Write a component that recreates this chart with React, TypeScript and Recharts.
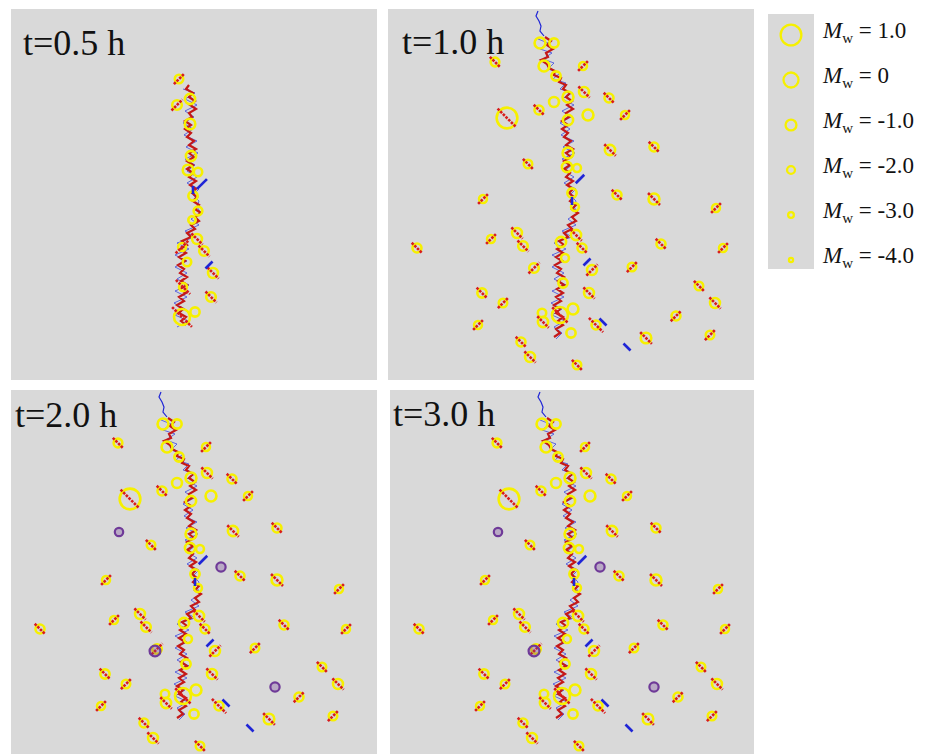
import { ScatterChart, Scatter, XAxis, YAxis } from "recharts";

// panel-local pixel coordinates (x right, y down)
const panelTitles = ["t=0.5 h", "t=1.0 h", "t=2.0 h", "t=3.0 h"];

const legendMw = [1.0, 0, -1.0, -2.0, -3.0, -4.0];
const legendLabels = ["1.0", "0", "-1.0", "-2.0", "-3.0", "-4.0"];

// red zig-zag trace of the hydraulic fracture
const fractureTrace = [
  [157, 28], [163, 32], [159, 36], [165, 40], [158, 44], [160, 48], [153, 51], [159, 55],
  [161, 59], [167, 62], [166, 66], [173, 69], [171, 73], [178, 76], [175, 80], [182, 84],
  [178, 88], [184, 92], [179, 96], [185, 100], [178, 104], [181, 108], [174, 112], [180, 116],
  [174, 120], [180, 124], [176, 128], [183, 132], [178, 136], [185, 140], [178, 144], [183, 148],
  [176, 152], [182, 156], [176, 160], [182, 164], [178, 168], [185, 172], [179, 176], [185, 180],
  [181, 184], [186, 188], [182, 192], [188, 196], [184, 200], [190, 204], [184, 208], [188, 212],
  [180, 216], [184, 220], [176, 224], [180, 228], [171, 232], [176, 236], [169, 240], [175, 244],
  [168, 248], [174, 252], [167, 256], [173, 260], [169, 264], [176, 268], [170, 272], [176, 276],
  [169, 280], [175, 284], [168, 288], [173, 292], [166, 296], [172, 300], [168, 304], [175, 308],
  [170, 312], [175, 316], [168, 320], [172, 324], [166, 328],
];

// thin blue shear hairs along the fracture
const hairTrace = [
  [150, 30], [160, 34], [152, 40], [164, 44], [155, 50], [166, 54], [160, 60], [172, 64],
  [165, 70], [178, 74], [172, 80], [184, 84], [174, 90], [186, 96], [174, 102], [183, 108],
  [172, 114], [182, 120], [173, 126], [186, 132], [175, 138], [187, 144], [174, 150], [184, 156],
  [176, 162], [186, 168], [176, 174], [188, 180], [182, 186], [188, 192], [186, 198], [190, 204],
  [180, 210], [188, 216], [174, 222], [184, 228], [166, 234], [178, 240], [164, 246], [176, 252],
  [164, 258], [176, 264], [166, 270], [178, 276], [164, 282], [176, 288], [163, 294], [174, 300],
  [164, 306], [177, 312], [166, 318], [174, 324], [168, 330],
];

// blue wavy tip at the top of the fracture
const tipTrace = [[150, 2], [148, 7], [151, 12], [153, 17], [152, 22], [156, 27]];

// events: [x, y, Mw, tilt (1 = "\", -1 = "/", 0 = none), half-length]
const earlyEvents = [
  [168, 70, -1.8, -1], [179, 90, -1.2, 0], [166, 96, -1.4, -1], [179, 115, -1.1, 0],
  [180, 147, -1.2, 0], [177, 161, -1.1, 0], [187, 163, -1.8, 0], [182, 187, -1.5, 0],
  [187, 202, -1.7, 0], [181, 211, -2.2, 0], [186, 230, -1.3, 1], [171, 238, -2.0, -1, 9],
  [193, 242, -1.4, 1], [176, 253, -1.8, 0], [202, 264, -1.3, 1], [172, 278, -2.0, 1, 10],
  [200, 288, -1.4, 1], [171, 308, 0.2, 1, 14], [184, 303, -1.5, 0],
];

const events = [
  [152, 34, -1.0, 0], [166, 34, -1.5, 0], [107, 53, -1.7, 1], [156, 57, -1.0, 0],
  [195, 57, -2.0, -1], [168, 67, -1.5, 0], [196, 83, -1.3, 1], [221, 89, -1.6, 1],
  [180, 88, -1.0, 0], [166, 93, -1.3, 0], [151, 101, -1.6, 1], [119, 109, 1.0, 1],
  [200, 106, -1.0, 0], [237, 106, -2.0, -1], [180, 111, -1.2, 0], [222, 141, -1.2, 1],
  [266, 138, -1.6, 1], [180, 144, -1.0, 0], [140, 155, -1.8, 1], [179, 158, -1.2, 0],
  [189, 159, -2.0, 0], [184, 184, -1.5, 0], [229, 186, -1.6, 1], [266, 190, -1.0, 1],
  [95, 190, -2.0, -1], [187, 198, -2.0, 0], [328, 199, -2.0, -1], [129, 224, -1.3, 1],
  [103, 230, -2.0, -1], [188, 226, -1.2, 1], [29, 239, -1.6, 1], [135, 237, -1.4, 1],
  [173, 233, -1.2, 0], [194, 239, -1.6, 1], [273, 235, -1.6, 1], [335, 239, -2.0, -1],
  [177, 249, -2.0, 0], [146, 259, -1.4, -1], [204, 261, -1.3, -1], [244, 258, -1.8, -1],
  [175, 274, -1.5, 0], [94, 284, -1.5, 1], [201, 284, -1.3, 1], [311, 277, -1.8, 1],
  [115, 294, -1.8, -1], [327, 294, -1.3, 1], [185, 300, -1.0, 0], [172, 306, 0.2, 1],
  [154, 304, -1.8, 0], [155, 313, -1.2, 1], [208, 316, -1.6, 1, 10], [90, 316, -2.0, -1],
  [288, 307, -1.6, -1], [183, 324, -1.5, 0], [258, 329, -1.1, 1], [322, 326, -1.8, -1],
  [133, 333, -1.6, 1], [142, 348, -1.3, 1], [189, 356, -1.8, 1],
];

// later (purple) events that appear from t = 2.0 h
const lateEvents = [[108, 142, -1.8], [210, 177, -1.5], [144, 261, -1.0], [264, 297, -1.5]];

// blue slip segments: [x, y, angle in degrees, half-length]
const earlySlips = [[191, 175, 45, 7], [182, 181, 90, 4], [198, 256, 45, 5]];
const slips = [[192, 170, 45, 6], [184, 192, 90, 4], [199, 253, 45, 5], [215, 313, -45, 5], [239, 338, -45, 5]];

const YELLOW = "#f6f000";
const RED = "#d81c1c";
const CRACK_RED = "#c41818";
const BLUE = "#1f25d6";
const PURPLE = "#6f3a98";
const PANEL_BG = "#d9d9d9";

const pts = (rows: number[][]) => rows.map(([x, y]) => ({ x, y }));
const evts = (rows: number[][]) => rows.map(([x, y, mw, tilt, len]) => ({ x, y, mw, tilt, len }));
const segs = (rows: number[][]) => rows.map(([x, y, angle, len]) => ({ x, y, angle, len }));

const ringR = (mw: number) => 7.5 * Math.pow(1.38, mw);

const Blank = () => <g />;

function EventMark(props: any) {
  const { cx, cy, payload } = props;
  const r = ringR(payload.mw);
  const d = (payload.len ?? r + 3) / Math.SQRT2;
  const t = payload.tilt;
  return (
    <g>
      <circle cx={cx} cy={cy} r={r} fill="none" stroke={YELLOW} strokeWidth={2.6} />
      {t !== 0 && (
        <line
          x1={cx - d}
          y1={cy - d * t}
          x2={cx + d}
          y2={cy + d * t}
          stroke={RED}
          strokeWidth={2.6}
          strokeDasharray="2.6 1.2"
        />
      )}
    </g>
  );
}

function SlipMark(props: any) {
  const { cx, cy, payload } = props;
  const a = (payload.angle * Math.PI) / 180;
  const dx = payload.len * Math.cos(a);
  const dy = payload.len * Math.sin(a);
  return <line x1={cx - dx} y1={cy + dy} x2={cx + dx} y2={cy - dy} stroke={BLUE} strokeWidth={2.6} />;
}

function PurpleMark(props: any) {
  const { cx, cy, payload } = props;
  return <circle cx={cx} cy={cy} r={ringR(payload.mw)} fill="rgba(111,58,152,0.3)" stroke={PURPLE} strokeWidth={2.2} />;
}

function LegendMark(props: any) {
  const { cx, cy, payload } = props;
  return (
    <g>
      <circle cx={cx} cy={cy} r={ringR(payload.mw)} fill="none" stroke={YELLOW} strokeWidth={2.3} />
      <text x={cx + 32} y={cy + 3} fontFamily='"Liberation Serif", serif' fontSize={23} fill="#111">
        <tspan fontStyle="italic">M</tspan>
        <tspan fontSize={15} dy={5}>w</tspan>
        <tspan dy={-5}>{" = " + payload.label}</tspan>
      </text>
    </g>
  );
}

type PanelProps = {
  left: number;
  top: number;
  w: number;
  h: number;
  title: string;
  tx: number;
  ty: number;
  crack: { x: number; y: number }[];
  hairs: { x: number; y: number }[];
  tip?: { x: number; y: number }[];
  quakes: any[];
  slipData: any[];
  late?: any[];
};

function Panel({ left, top, w, h, title, tx, ty, crack, hairs, tip, quakes, slipData, late }: PanelProps) {
  return (
    <div style={{ position: "absolute", left, top, width: w, height: h, background: PANEL_BG }}>
      <ScatterChart width={w} height={h} margin={{ top: 0, right: 0, bottom: 0, left: 0 }}>
        <XAxis type="number" dataKey="x" domain={[0, w]} hide allowDataOverflow />
        <YAxis type="number" dataKey="y" domain={[0, h]} reversed hide allowDataOverflow />
        {tip && (
          <Scatter data={tip} line={{ stroke: BLUE, strokeWidth: 1.2 }} lineType="joint" shape={Blank} isAnimationActive={false} />
        )}
        <Scatter
          data={hairs}
          line={{ stroke: "#3442e0", strokeWidth: 1, strokeOpacity: 0.75 }}
          lineType="joint"
          shape={Blank}
          isAnimationActive={false}
        />
        <Scatter data={crack} line={{ stroke: CRACK_RED, strokeWidth: 2.2 }} lineType="joint" shape={Blank} isAnimationActive={false} />
        <Scatter data={quakes} shape={EventMark} isAnimationActive={false} />
        <Scatter data={slipData} shape={SlipMark} isAnimationActive={false} />
        {late && <Scatter data={late} shape={PurpleMark} isAnimationActive={false} />}
      </ScatterChart>
      <svg style={{ position: "absolute", left: 0, top: 0, pointerEvents: "none" }} width={w} height={h}>
        <text x={tx} y={ty} fontFamily='"Liberation Serif", serif' fontSize={36} fill="#111">
          {title}
        </text>
      </svg>
    </div>
  );
}

export default function App() {
  const crack = pts(fractureTrace);
  const hairs = pts(hairTrace);
  const tip = pts(tipTrace);
  const earlyCrack = crack.filter((p) => p.y >= 76 && p.y <= 318);
  const earlyHairs = hairs.filter((p) => p.y >= 80 && p.y <= 318);
  const quakes = evts(events);
  const late = lateEvents.map(([x, y, mw]) => ({ x, y, mw }));
  const legendRows = legendMw.map((mw, i) => ({ mw, row: i, col: 0, label: legendLabels[i] }));

  return (
    <div style={{ position: "absolute", left: 0, top: 0, width: 931, height: 754, background: "#fff", overflow: "hidden" }}>
      <Panel left={11} top={9} w={366} h={371} title={panelTitles[0]} tx={12} ty={46}
        crack={earlyCrack} hairs={earlyHairs} quakes={evts(earlyEvents)} slipData={segs(earlySlips)} />
      <Panel left={388} top={9} w={366} h={371} title={panelTitles[1]} tx={14} ty={45}
        crack={crack} hairs={hairs} tip={tip} quakes={quakes} slipData={segs(slips)} />
      <Panel left={11} top={390} w={366} h={364} title={panelTitles[2]} tx={4} ty={37}
        crack={crack} hairs={hairs} tip={tip} quakes={quakes} slipData={segs(slips)} late={late} />
      <Panel left={390} top={390} w={364} h={364} title={panelTitles[3]} tx={3} ty={36}
        crack={crack} hairs={hairs} tip={tip} quakes={quakes} slipData={segs(slips)} late={late} />

      <div style={{ position: "absolute", left: 768, top: 14, width: 46, height: 255, background: PANEL_BG }} />
      <div style={{ position: "absolute", left: 768, top: 14 }}>
        <ScatterChart width={163} height={272} margin={{ top: 0, right: 0, bottom: 0, left: 0 }}>
          <XAxis type="number" dataKey="col" domain={[-23, 140]} hide />
          <YAxis type="number" dataKey="row" domain={[-0.4667, 5.5778]} reversed hide />
          <Scatter data={legendRows} shape={LegendMark} isAnimationActive={false} />
        </ScatterChart>
      </div>
    </div>
  );
}
